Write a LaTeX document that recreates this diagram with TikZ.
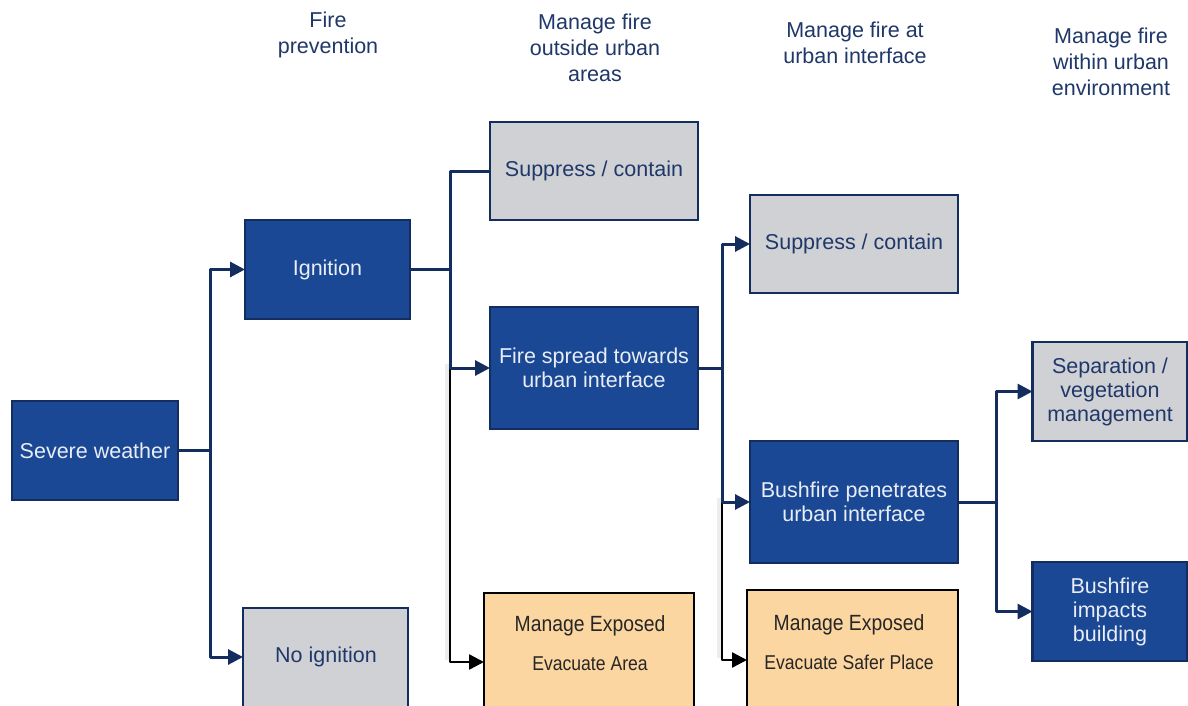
\documentclass[tikz,border=0pt]{standalone}
\usepackage{fontspec}
\setmainfont{Liberation Sans}
\newfontfamily\narrowfont[FakeStretch=0.88]{Liberation Sans}
\usetikzlibrary{arrows.meta}
\definecolor{boxblue}{RGB}{26,72,148}
\definecolor{navyline}{RGB}{20,45,95}
\definecolor{navytext}{RGB}{31,56,105}
\definecolor{boxgray}{RGB}{208,209,213}
\definecolor{boxorange}{RGB}{252,214,160}
\definecolor{whitetext}{RGB}{232,237,246}
\tikzset{
  base/.style={rectangle, inner sep=0pt, outer sep=0pt, align=center,
    font=\fontsize{21.5}{24}\selectfont, line width=2.6pt},
  bluebox/.style={base, fill=boxblue, draw=navyline, text=whitetext},
  graybox/.style={base, fill=boxgray, draw=navyline, text=navytext},
  graytext/.style={align=center, inner sep=0pt, text=navytext, font=\fontsize{21.5}{24}\selectfont},
  orangebox/.style={rectangle, inner sep=0pt, outer sep=0pt, fill=boxorange, draw=black, line width=2.2pt},
  otext/.style={align=center, inner sep=0pt, text=black!85},
  header/.style={align=center, inner sep=0pt, text=navytext, font=\fontsize{21.5}{26}\selectfont},
  conn/.style={draw=navyline, line width=3pt, line join=round},
  arr/.style={conn, -{Triangle[length=15pt,width=15pt]}},
  bconn/.style={draw=black, line width=2.4pt, line join=round},
  barr/.style={bconn, -{Triangle[length=15pt,width=15pt]}},
  shadowline/.style={draw=black, opacity=0.07, line width=5pt}
}
\begin{document}
\begin{tikzpicture}[x=1pt,y=-1pt]
\useasboundingbox (0,0) rectangle (1188,706);
\clip (0,0) rectangle (1188,706);
\fill[white] (0,0) rectangle (1188,706);

% headers
\node[header] (h1) at (328,35) {Fire\\prevention};
\node[header] (h2) at (595,48) {Manage fire\\outside urban\\areas};
\node[header] (h3) at (855,43) {Manage fire at\\urban interface};
\node[header] (h4) at (1111,62) {Manage fire\\within urban\\environment};

% boxes
\node[bluebox, minimum width=166pt, minimum height=99pt] (sw) at (95,450.5) {Severe weather};
\node[bluebox, minimum width=165pt, minimum height=99pt] (ign) at (327.5,269.5) {Ignition};
\node[graybox, minimum width=165pt, minimum height=110pt] (noign) at (325.5,663) {};
\node[graytext] (noignt) at (326,657) {No ignition};
\node[graybox, minimum width=208pt, minimum height=98pt] (sup1) at (594,171) {Suppress / contain};
\node[bluebox, minimum width=208pt, minimum height=122pt] (spread) at (594,368) {Fire spread towards\\urban interface};
\node[graybox, minimum width=208pt, minimum height=98pt] (sup2) at (854,244) {Suppress / contain};
\node[bluebox, minimum width=208pt, minimum height=122pt] (pen) at (854,502) {Bushfire penetrates\\urban interface};
\node[graybox, minimum width=155pt, minimum height=99pt] (sep) at (1110,391.5) {Separation /\\vegetation\\management};
\node[bluebox, minimum width=155pt, minimum height=99pt] (imp) at (1110,611.5) {Bushfire\\impacts\\building};

\node[orangebox, anchor=north west, minimum width=210pt, minimum height=130pt] (me1) at (484,593) {};
\node[otext, font=\narrowfont\fontsize{22}{24}\selectfont] (me1a) at (590,626) {Manage Exposed};
\node[otext, font=\narrowfont\fontsize{20}{22}\selectfont] (me1b) at (590,664) {Evacuate Area};
\node[orangebox, anchor=north west, minimum width=211pt, minimum height=130pt] (me2) at (747,590) {};
\node[otext, font=\narrowfont\fontsize{22}{24}\selectfont] (me2a) at (849,625) {Manage Exposed};
\node[otext, font=\narrowfont\fontsize{20}{22}\selectfont] (me2b) at (849,662) {Evacuate Safer Place};

% junction coordinates
\coordinate (j1) at (210,450.5);
\coordinate (j2) at (450,269.5);
\coordinate (j2b) at (450,368);
\coordinate (me1in) at (484,662);
\coordinate (j3) at (722,368);
\coordinate (j3b) at (722,502);
\coordinate (me2in) at (747,660);
\coordinate (j4) at (996,502);

% black connectors (with soft shadow)
\draw[shadowline] ([xshift=-2.5pt,yshift=4pt]j2b) -- ([xshift=-2.5pt,yshift=2pt]j2b |- me1in);
\draw[shadowline] ([xshift=-2.5pt,yshift=4pt]j3b) -- ([xshift=-2.5pt,yshift=2pt]j3b |- me2in);
\draw[barr] (j2b) |- (me1in);
\draw[barr] (j3b) |- (me2in);

% navy connectors
\draw[conn] (sw.east) -- (j1);
\draw[arr] (j1) |- (noignt.west -| noign.west);
\draw[arr] (j1) |- (ign.west);
\draw[conn] (ign.east) -- (j2);
\draw[conn] (j2) |- (sup1.west);
\draw[arr] (j2) |- (spread.west);
\draw[conn] (spread.east) -- (j3);
\draw[arr] (j3) |- (sup2.west);
\draw[arr] (j3) |- (pen.west);
\draw[conn] (pen.east) -- (j4);
\draw[arr] (j4) |- (sep.west);
\draw[arr] (j4) |- (imp.west);
\end{tikzpicture}
\end{document}
